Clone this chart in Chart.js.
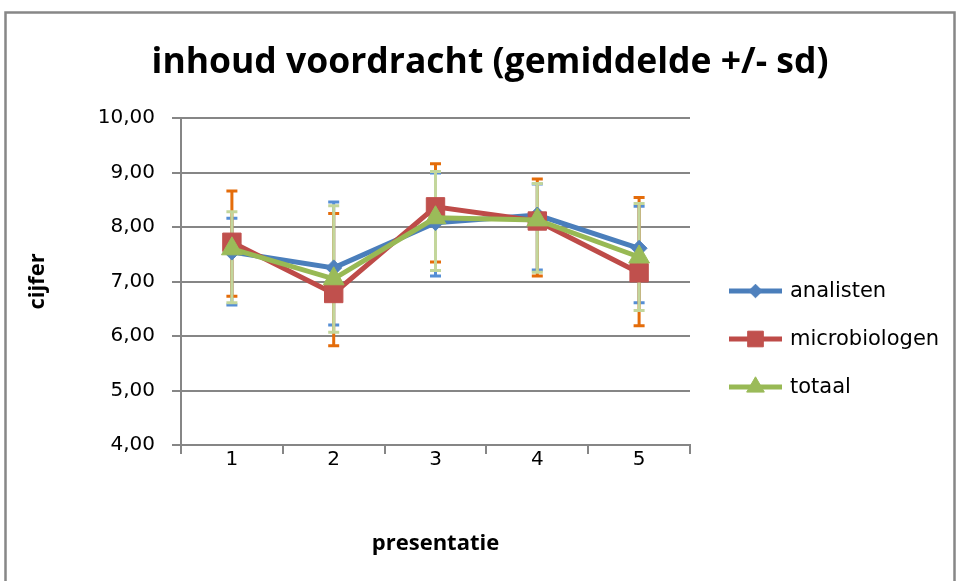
<!DOCTYPE html>
<html><head><meta charset="utf-8">
<script src="https://cdn.jsdelivr.net/npm/chart.js@4"></script>
<style>html,body{margin:0;padding:0;background:#fff}#wrap{width:960px;height:581px;position:relative}</style>
</head><body><div id="wrap"><canvas id="c" width="960" height="581"></canvas></div>
<script>
const categories = ['1', '2', '3', '4', '5'];
const seriesNames = ['analisten', 'microbiologen', 'totaal'];
const analistenMean = [7.54, 7.25, 8.08, 8.22, 7.61];
const analistenLow  = [6.57, 6.20, 7.10, 7.21, 6.61];
const analistenHigh = [8.16, 8.46, 8.99, 8.79, 8.38];
const microMean = [7.72, 6.78, 8.37, 8.11, 7.16];
const microLow  = [6.73, 5.82, 7.36, 7.10, 6.19];
const microHigh = [8.66, 8.25, 9.16, 8.88, 8.54];
const totaalMean = [7.60, 7.05, 8.17, 8.13, 7.45];
const totaalLow  = [6.61, 6.07, 7.20, 7.17, 6.47];
const totaalHigh = [8.28, 8.39, 9.02, 8.80, 8.43];
const yTickValues = [4, 5, 6, 7, 8, 9, 10];
const titleText = 'inhoud voordracht (gemiddelde +/- sd)';
const xTitleText = 'presentatie';
const yTitleText = 'cijfer';

Chart.defaults.color = '#000';
const GRID = '#868686';

const borderPlugin = {
  id: 'outerBorder',
  beforeDraw(chart) {
    const ctx = chart.ctx;
    ctx.save();
    ctx.strokeStyle = '#878787';
    ctx.lineWidth = 2.5;
    ctx.strokeRect(5.5, 12.5, 949, 600);
    ctx.restore();
  }
};

const errorBarPlugin = {
  id: 'errorBars',
  beforeDatasetsDraw(chart) {
    const ctx = chart.ctx;
    const xs = chart.scales.x, ys = chart.scales.y;
    ctx.save();
    chart.data.datasets.forEach(ds => {
      ctx.strokeStyle = ds.errColor;
      ctx.lineWidth = 3;
      ds.errLow.forEach((lo, i) => {
        const x = xs.getPixelForValue(i);
        const yl = ys.getPixelForValue(lo);
        const yh = ys.getPixelForValue(ds.errHigh[i]);
        ctx.beginPath();
        ctx.moveTo(x, yl); ctx.lineTo(x, yh);
        ctx.moveTo(x - 5.5, yl); ctx.lineTo(x + 5.5, yl);
        ctx.moveTo(x - 5.5, yh); ctx.lineTo(x + 5.5, yh);
        ctx.stroke();
      });
    });
    ctx.restore();
  }
};

const legendPlugin = {
  id: 'lineLegend',
  afterDraw(chart) {
    const ctx = chart.ctx;
    ctx.save();
    chart.data.datasets.forEach((ds, i) => {
      const y = 291 + i * 48;
      ctx.strokeStyle = ds.borderColor;
      ctx.lineWidth = 5;
      ctx.beginPath(); ctx.moveTo(729, y); ctx.lineTo(782, y); ctx.stroke();
      ctx.fillStyle = ds.pointBackgroundColor;
      ctx.strokeStyle = ds.pointBackgroundColor;
      ctx.lineWidth = 1;
      Chart.helpers.drawPoint(ctx, {pointStyle: ds.pointStyle, radius: ds.legendRadius, rotation: 0, borderWidth: 1}, 755.5, y);
      ctx.fillStyle = '#000';
      ctx.font = '21px "DejaVu Sans"';
      ctx.textBaseline = 'middle';
      ctx.textAlign = 'left';
      ctx.fillText(ds.label, 790, y + 1);
    });
    ctx.restore();
  }
};

function makeDataset(name, mean, low, high, line, fill, errColor, style, radius, order) {
  return {
    label: name, data: mean, errLow: low, errHigh: high, errColor: errColor,
    borderColor: line, borderWidth: 5, backgroundColor: fill,
    pointStyle: style, pointRadius: radius, legendRadius: radius * 0.85,
    pointBackgroundColor: fill, pointBorderColor: fill, pointBorderWidth: 1,
    tension: 0, order: order
  };
}

new Chart(document.getElementById('c'), {
  type: 'line',
  data: {
    labels: categories,
    datasets: [
      makeDataset(seriesNames[0], analistenMean, analistenLow, analistenHigh, '#4A7EBB', '#4F81BD', '#558ED5', 'rectRot', 8, 3),
      makeDataset(seriesNames[1], microMean, microLow, microHigh, '#BE4B48', '#C0504D', '#E46C0A', 'rect', 13, 2),
      makeDataset(seriesNames[2], totaalMean, totaalLow, totaalHigh, '#98B954', '#9BBB59', '#C3D69B', 'triangle', 12, 1)
    ]
  },
  options: {
    responsive: false,
    animation: false,
    events: [],
    layout: {padding: {left: 20, right: 0, top: 0, bottom: 0}},
    plugins: {
      legend: {display: false},
      tooltip: {enabled: false},
      title: {
        display: true, text: titleText,
        font: {family: '"Open Sans"', size: 35.5, weight: 'bold', lineHeight: 1.2},
        color: '#000',
        padding: {top: 41.7, bottom: 33.7}
      }
    },
    scales: {
      x: {
        type: 'category',
        offset: true,
        grid: {offset: true, drawOnChartArea: false, drawTicks: true, tickLength: 9, color: GRID, lineWidth: 2},
        border: {display: true, color: GRID, width: 2},
        ticks: {font: {family: '"DejaVu Sans"', size: 20, lineHeight: 1}, padding: -4, color: '#000', maxRotation: 0},
        title: {display: true, text: xTitleText, font: {family: '"Open Sans"', size: 22, weight: 'bold', lineHeight: 1.2}, color: '#000', padding: {top: 0, bottom: 24}},
        afterFit(s) { s.height = 136; }
      },
      y: {
        min: 4, max: 10,
        afterBuildTicks(s) { s.ticks = yTickValues.map(v => ({value: v})); },
        grid: {drawTicks: true, tickLength: 9, color: GRID, lineWidth: 2},
        border: {display: true, color: GRID, width: 2},
        ticks: {font: {family: '"DejaVu Sans"', size: 20}, padding: 17, color: '#000',
                callback: v => v.toFixed(2).replace('.', ',')},
        title: {display: true, text: yTitleText, font: {family: '"Open Sans"', size: 22, weight: 'bold', lineHeight: 1.2}, color: '#000', padding: {top: 5, bottom: 0}},
        afterFit(s) { s.width = 161; }
      },
      yRight: {
        position: 'right', display: true,
        grid: {display: false}, border: {display: false},
        ticks: {display: false},
        afterFit(s) { s.width = 270; }
      }
    }
  },
  plugins: [borderPlugin, errorBarPlugin, legendPlugin]
});
</script>
</body></html>
